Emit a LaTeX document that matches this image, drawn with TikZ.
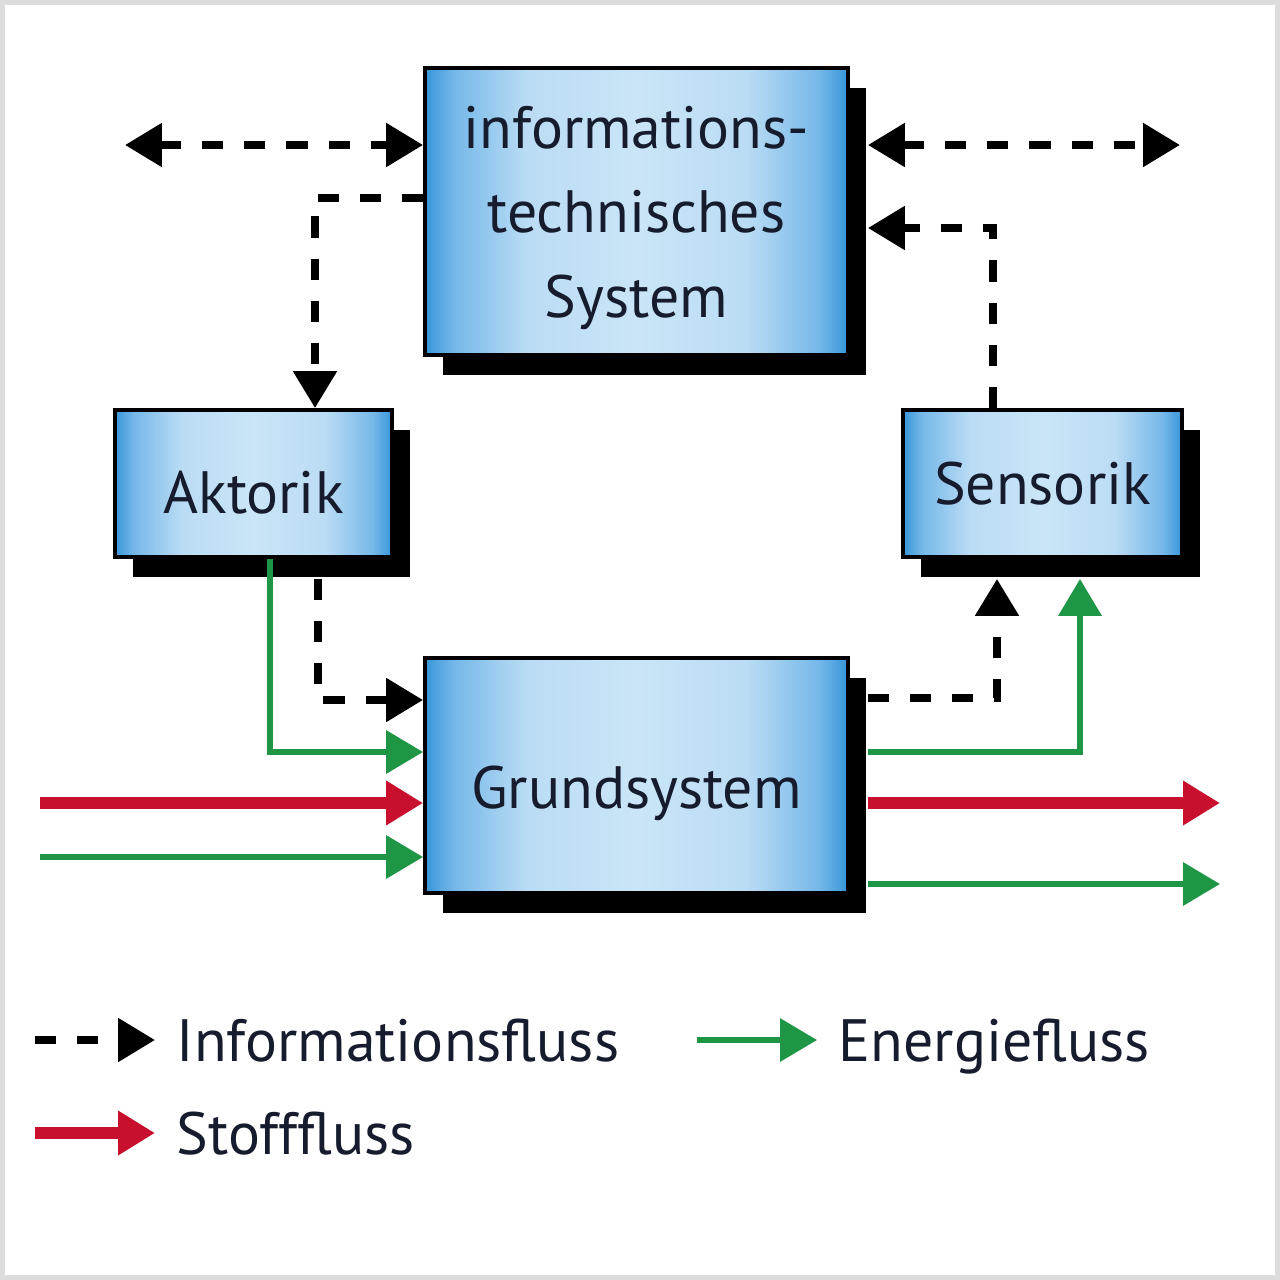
\documentclass[tikz,border=0pt]{standalone}
\usepackage{fontspec}
\setmainfont{PT Sans}
\usetikzlibrary{arrows.meta,shadows}
\definecolor{boxblue}{RGB}{55,150,216}
\definecolor{boxmid}{RGB}{118,184,233}
\definecolor{boxlight}{RGB}{186,220,244}
\definecolor{boxlighter}{RGB}{202,229,247}
\definecolor{flowgreen}{RGB}{30,150,70}
\definecolor{flowred}{RGB}{200,16,46}
\definecolor{framegray}{RGB}{220,220,220}
\definecolor{textdark}{RGB}{22,28,45}
\pgfdeclarehorizontalshading{boxshade}{100bp}{color(0bp)=(boxblue); color(25bp)=(boxblue); color(28.5bp)=(boxmid); color(37bp)=(boxlight); color(50bp)=(boxlighter); color(63bp)=(boxlight); color(71.5bp)=(boxmid); color(75bp)=(boxblue); color(100bp)=(boxblue)}
\tikzset{
  flowtip/.tip={Triangle[length=10.5pt,width=12pt]},
  sysbox/.style={draw=black, line width=1.1pt, shading=boxshade,
    general shadow={fill=black, shadow xshift=1.8mm, shadow yshift=-2mm},
    align=center, text=textdark, font=\fontsize{17}{24}\selectfont, inner sep=0pt},
  infoflow/.style={line width=2.2pt, dash pattern=on 6pt off 6pt, -flowtip},
  energyflow/.style={flowgreen, line width=1.7pt, -flowtip},
  stoffflow/.style={flowred, line width=3.4pt, -flowtip},
  legendtext/.style={anchor=base west, text=textdark, font=\fontsize{17}{20}\selectfont, inner sep=0pt}
}
\begin{document}
\begin{tikzpicture}[x=0.1mm, y=-0.1mm]
\useasboundingbox (0,0) rectangle (1280,1280);
\draw [framegray, line width=1.5pt] (2.5,2.5) rectangle (1277.5,1277.5);

% Bloecke
\node [sysbox, minimum width=4.23cm, minimum height=2.87cm, text depth=0pt] (info) at (636.5,211.5) {informations-\\technisches\\System};
\node [sysbox, minimum width=2.77cm, minimum height=1.47cm, text height=16.8pt, text depth=0pt] (akt) at (253.5,483.5) {Aktorik};
\node [sysbox, minimum width=2.79cm, minimum height=1.47cm] (sen) at (1042.5,483.5) {Sensorik};
\node [sysbox, minimum width=4.23cm, minimum height=2.35cm, text height=18.7pt, text depth=0pt] (grund) at (636.5,775.5) {Grundsystem};

\coordinate (infoS) at ([xshift=1.8mm]info.east);
\coordinate (grundS) at ([xshift=1.8mm]grund.east);
\coordinate (tl) at (125,145);
\coordinate (tr) at (1180,145);
\coordinate (redin) at (40,803);
\coordinate (greenin) at (40,857);
\coordinate (redout) at (1220,803);
\coordinate (greenout) at (1220,884);

% Informationsfluss
\draw [infoflow, flowtip-flowtip] (tl) -- (tl -| info.west);
\draw [infoflow, flowtip-flowtip] (tr -| infoS) -- (tr);
\draw [infoflow] ([yshift=1.35mm]info.west) -| ([xshift=6.15mm]akt.north);
\draw [infoflow] ([xshift=-4.95mm]sen.north) |- ([yshift=-1.65mm]infoS);
\draw [infoflow] ([shift={(6.45mm,-2mm)}]akt.south) |- ([yshift=7.55mm]grund.west);
\draw [infoflow] ([yshift=7.75mm]grundS) -| ([shift={(-4.55mm,-2mm)}]sen.south);

% Energiefluss
\draw [energyflow] ([xshift=1.65mm]akt.south) |- ([yshift=2.35mm]grund.west);
\draw [energyflow] (greenin) -- (greenin -| grund.west);
\draw [energyflow] ([yshift=2.35mm]grundS) -| ([shift={(3.75mm,-2mm)}]sen.south);
\draw [energyflow] (greenout -| grundS) -- (greenout);

% Stofffluss
\draw [stoffflow] (redin) -- (redin -| grund.west);
\draw [stoffflow] (redout -| grundS) -- (redout);

% Legende
\coordinate (l1) at (35,1040);
\coordinate (l1e) at (155,1040);
\coordinate (l2) at (697,1040);
\coordinate (l2e) at (817,1040);
\coordinate (l3) at (35,1133);
\coordinate (l3e) at (155,1133);
\node [legendtext] (tinfo) at (176,1061) {Informationsfluss};
\node [legendtext] (tenergy) at (838,1061) {Energiefluss};
\node [legendtext] (tstoff) at (176,1154) {Stofffluss};
\draw [infoflow] (l1) -- (l1e);
\draw [energyflow] (l2) -- (l2e);
\draw [stoffflow] (l3) -- (l3e);
\end{tikzpicture}
\end{document}
